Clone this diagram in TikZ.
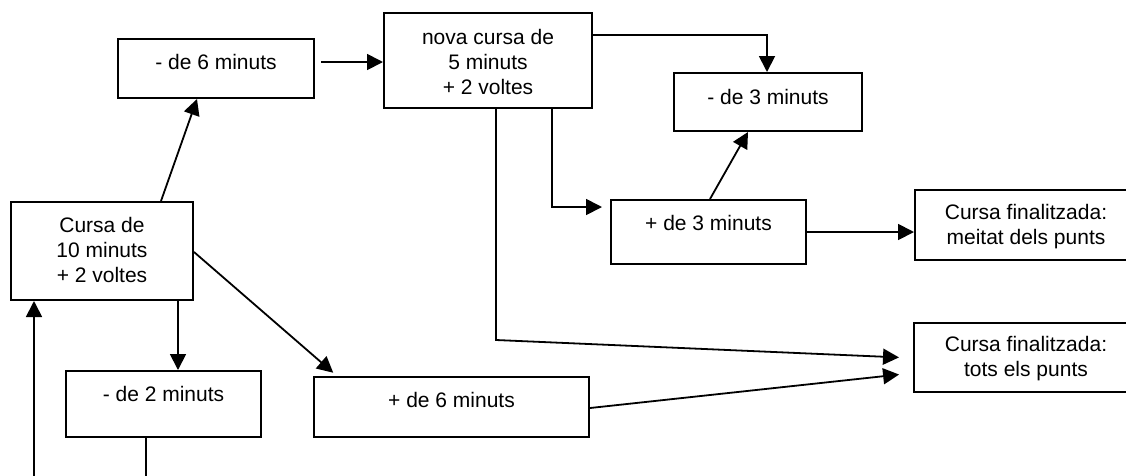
\documentclass[tikz,border=0pt]{standalone}
\usepackage{fontspec}
\setmainfont{Liberation Sans}
\usetikzlibrary{arrows.meta,calc}
\begin{document}
\begin{tikzpicture}[x=1pt,y=-1pt,
  box/.style={draw=black,line width=2pt,fill=white,inner sep=0pt},
  lbl/.style={inner sep=0pt,align=center,font=\fontsize{21}{25}\selectfont},
  conn/.style={line width=1.8pt,line cap=butt},
  arr/.style={conn,-{Triangle[length=16pt,width=16pt]}}]
\useasboundingbox (0,0) rectangle (1126,475);
\clip (0,0) rectangle (1126,475);
% boxes
\node[box,minimum width=182pt,minimum height=98pt] (cursa) at (102,251) {};
\node[box,minimum width=195pt,minimum height=66pt] (min2) at (163.5,404) {};
\node[box,minimum width=196pt,minimum height=59pt] (min6) at (216,68.5) {};
\node[box,minimum width=208pt,minimum height=95pt] (nova) at (488,60.5) {};
\node[box,minimum width=188pt,minimum height=58pt] (min3) at (768,102) {};
\node[box,minimum width=195pt,minimum height=64pt] (plus3) at (708.5,232) {};
\node[box,minimum width=223pt,minimum height=70pt] (meitat) at (1026.5,225) {};
\node[box,minimum width=224pt,minimum height=69pt] (tots) at (1026,357.5) {};
\node[box,minimum width=275pt,minimum height=60pt] (plus6) at (451.5,407) {};
% texts
\node[lbl] (tcursa) at (102,250) {Cursa de\\10 minuts\\+ 2 voltes};
\node[lbl] (tmin2) at (163.5,394) {- de 2 minuts};
\node[lbl] (tmin6) at (216,62) {- de 6 minuts};
\node[lbl] (tnova) at (488,61.5) {nova cursa de\\5 minuts\\+ 2 voltes};
\node[lbl] (tmin3) at (768,97) {- de 3 minuts};
\node[lbl] (tplus3) at (708.5,223) {+ de 3 minuts};
\node[lbl] (tmeitat) at (1026,227) {Cursa finalitzada:\\meitat dels punts};
\node[lbl] (ttots) at (1026,359) {Cursa finalitzada:\\tots els punts};
\node[lbl] (tplus6) at (451.5,400) {+ de 6 minuts};
% free ends and bends
\coordinate (in1) at (34,485);
\coordinate (out1) at (146,485);
\coordinate (bend7) at (496,340);
% connectors
\draw[arr] (cursa.north -| 161,0) -- (min6.south -| 197,0);
\draw[arr,shorten <=6pt] (min6.east |- 0,62) -- (nova.west |- 0,62);
\draw[arr] (nova.east |- 0,35) -| (min3.north -| 767,0);
\draw[arr,shorten >=8pt] (nova.south -| 552,0) |- (plus3.west |- 0,207);
\draw[arr] (plus3.north -| 710,0) -- (min3.south -| 748,0);
\draw[arr] (plus3.east |- 0,232) -- (meitat.west |- 0,232);
\draw[arr,shorten >=14pt] (nova.south -| 496,0) -- (bend7) -- (tots.west |- 0,358);
\draw[arr,shorten >=14pt] (plus6.east |- 0,408) -- (tots.west |- 0,373);
\draw[arr,shorten >=5pt] (cursa.east |- 0,252) -- (plus6.north -| 337,0);
\draw[arr] (cursa.south -| 178,0) -- (min2.north -| 178,0);
\draw[arr] (in1) -- (cursa.south -| in1);
\draw[conn] (min2.south -| out1) -- (out1);
\end{tikzpicture}
\end{document}
